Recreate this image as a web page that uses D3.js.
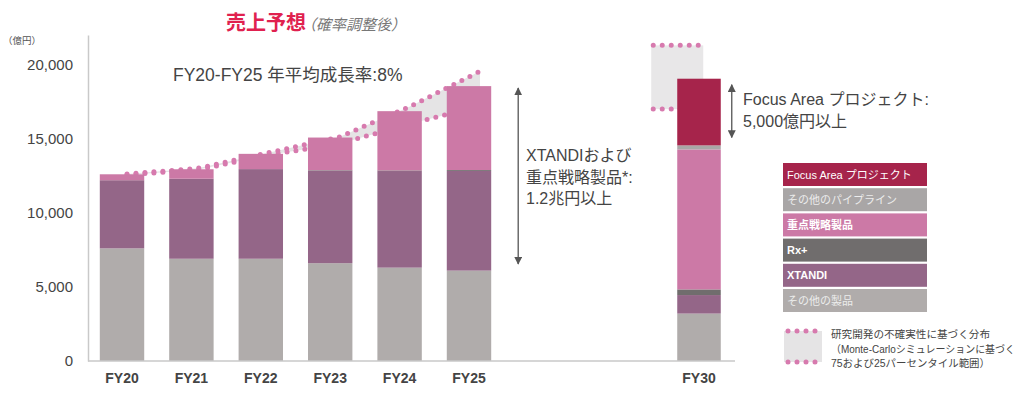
<!DOCTYPE html>
<html>
<head>
<meta charset="utf-8">
<script src="https://cdn.jsdelivr.net/npm/d3@7/dist/d3.min.js"></script>
<style>
  body { margin: 0; background: #fff; }
  svg { display: block; font-family: "Liberation Sans", "Noto Sans CJK JP", sans-serif; }
</style>
</head>
<body>
<svg id="chart" width="1024" height="396"></svg>
<script>
// data (億円)
const years = ["FY20", "FY21", "FY22", "FY23", "FY24", "FY25"];
const otherProducts = [7600, 6900, 6900, 6600, 6300, 6100];
const xtandi        = [4600, 5400, 6050, 6250, 6520, 6730];
const rxPlus        = [0, 0, 0, 30, 40, 60];
const strategic     = [400, 640, 1030, 2200, 4000, 5660];
const pipeline      = [0, 0, 0, 0, 0, 0];
const focusArea     = [0, 0, 0, 0, 0, 0];

// FY30 stack
const fy30Label = "FY30";
const fy30 = { other: 3200, xtandi: 1250, rx: 380, strategic: 9450, pipeline: 270, focus: 4500 };

// 75th / 25th percentile (Monte-Carlo)
const p75 = [12620, 13000, 14050, 15100, 17150, 19550];
const p25 = [12560, 12900, 13900, 14650, 16000, 17200];
const fy30P75 = 21300;
const fy30P25 = 17000;

const yTicks = [0, 5000, 10000, 15000, 20000];

const layerKeys = ["other", "xtandi", "rx", "strategic", "pipeline", "focus"];
const layerColors = {
  other: "#b0acab", xtandi: "#946688", rx: "#706d6d",
  strategic: "#cc79a6", pipeline: "#a9a6a6", focus: "#a6244b"
};
const legendItems = [
  { key: "focus", label: "Focus Area プロジェクト", text: "#fff", bold: false },
  { key: "pipeline", label: "その他のパイプライン", text: "#ececec", bold: false },
  { key: "strategic", label: "重点戦略製品", text: "#fff", bold: true },
  { key: "rx", label: "Rx+", text: "#fff", bold: true },
  { key: "xtandi", label: "XTANDI", text: "#fff", bold: true },
  { key: "other", label: "その他の製品", text: "#ececec", bold: false }
];
const noteLines = ["研究開発の不確実性に基づく分布", "（Monte-Carloシミュレーションに基づく", "75および25パーセンタイル範囲）"];

const rows = years.map((yr, i) => ({
  year: yr, other: otherProducts[i], xtandi: xtandi[i], rx: rxPlus[i],
  strategic: strategic[i], pipeline: pipeline[i], focus: focusArea[i]
}));
const rows30 = [Object.assign({ year: fy30Label }, fy30)];

const svg = d3.select("#chart");
const dotColor = "#d77aae";

// scales
const y = d3.scaleLinear().domain([0, 22000]).range([361, 35]);
const x = d3.scaleBand().domain(years).range([88, 503]).paddingInner(0.36).paddingOuter(0.17);
const x30 = d3.scaleBand().domain([fy30Label]).range([665, 733]).paddingInner(0.36).paddingOuter(0.17);
const cx = (d, i) => x(d) + x.bandwidth() / 2 + 5 + i * 1.2;

// uncertainty band (behind bars)
const band = years.map((yr, i) => ({ yr, i, hi: p75[i], lo: p25[i] }));
svg.append("path")
  .datum(band)
  .attr("fill", "#e5e4e5")
  .attr("d", d3.area().x(d => cx(d.yr, d.i)).y0(d => y(d.lo)).y1(d => y(d.hi)));

const dotLine = (g, d) => g.append("path")
  .attr("d", d)
  .attr("fill", "none")
  .attr("stroke", dotColor)
  .attr("stroke-width", 5)
  .attr("stroke-linecap", "round")
  .attr("stroke-dasharray", "0 9");

dotLine(svg, d3.line().x(d => cx(d.yr, d.i)).y(d => y(d.hi))(band));
dotLine(svg, d3.line().x(d => cx(d.yr, d.i)).y(d => y(d.lo))(band));

// FY30 uncertainty box
const bx0 = x30(fy30Label) - 26, bx1 = x30(fy30Label) + 26;
svg.append("rect")
  .attr("x", bx0).attr("y", y(fy30P75))
  .attr("width", bx1 - bx0).attr("height", y(fy30P25) - y(fy30P75))
  .attr("fill", "#e8e7e8");
dotLine(svg, `M${bx0 + 2},${y(fy30P75)}H${bx1 - 2}`);
dotLine(svg, `M${bx0 + 2},${y(fy30P25)}H${bx1 - 2}`);

// stacked bars
const stack = d3.stack().keys(layerKeys);
const drawStack = (data, xs) => {
  const series = stack(data);
  svg.append("g").selectAll("g")
    .data(series)
    .join("g")
    .attr("fill", s => layerColors[s.key])
    .selectAll("rect")
    .data(s => s)
    .join("rect")
    .attr("x", d => xs(d.data.year))
    .attr("y", d => y(d[1]))
    .attr("width", xs.bandwidth())
    .attr("height", d => y(d[0]) - y(d[1]));
};
drawStack(rows, x);
drawStack(rows30, x30);

// y axis
const yAxis = svg.append("g")
  .attr("transform", "translate(88,0)")
  .call(d3.axisLeft(y).tickValues(yTicks).tickSize(0).tickPadding(15).tickFormat(d3.format(",")));
yAxis.select(".domain").attr("stroke", "#c9c9c9").attr("stroke-width", 1.5);
yAxis.selectAll("text").attr("font-size", 15).attr("fill", "#444").attr("font-family", null);

// baseline
svg.append("line")
  .attr("x1", 88).attr("x2", 735).attr("y1", y(0)).attr("y2", y(0))
  .attr("stroke", "#c9c9c9").attr("stroke-width", 1.5);

// x labels
[x, x30].forEach(xs => {
  const ax = svg.append("g")
    .attr("transform", `translate(0,${y(0)})`)
    .call(d3.axisBottom(xs).tickSize(0).tickPadding(12));
  ax.select(".domain").remove();
  ax.selectAll("text").attr("font-size", 14).attr("font-weight", "bold")
    .attr("fill", "#444").attr("font-family", null);
});

// title and unit
const title = svg.append("text").attr("x", 226).attr("y", 30);
title.append("tspan").text("売上予想").attr("font-size", 20).attr("font-weight", "bold").attr("fill", "#e0214f");
title.append("tspan").text("（確率調整後）").attr("font-size", 15).attr("font-style", "italic").attr("fill", "#777")
  .attr("dx", -5);
svg.append("text").attr("x", 3).attr("y", 44).attr("font-size", 9.5).attr("fill", "#555").text("（億円）");

svg.append("text").attr("x", 173).attr("y", 81).attr("font-size", 17.5).attr("fill", "#444")
  .text("FY20-FY25 年平均成長率:8%");

// arrows
const defs = svg.append("defs");
defs.append("marker").attr("id", "ah")
  .attr("viewBox", "0 0 10 10").attr("refX", 9).attr("refY", 5)
  .attr("markerWidth", 8).attr("markerHeight", 8).attr("markerUnits", "userSpaceOnUse")
  .attr("orient", "auto-start-reverse")
  .append("path").attr("d", "M0,0L10,5L0,10Z").attr("fill", "#555");

const arrow = (ax, v0, v1, pad0, pad1) => svg.append("line")
  .attr("x1", ax).attr("x2", ax)
  .attr("y1", y(v0) + pad0).attr("y2", y(v1) - pad1)
  .attr("stroke", "#555").attr("stroke-width", 1.3)
  .attr("marker-start", "url(#ah)").attr("marker-end", "url(#ah)");

const top25 = otherProducts[5] + xtandi[5] + rxPlus[5] + strategic[5];
arrow(x("FY25") + x.bandwidth() + 27, top25, top25 - 12000, 2, 0);

const top30 = d3.sum(layerKeys, k => fy30[k]);
arrow(x30(fy30Label) + x30.bandwidth() + 11, top30, top30 - fy30.focus, 6, 8);

const multiText = (tx, ty, lines, size, lh) => {
  const t = svg.append("text").attr("x", tx).attr("y", ty).attr("font-size", size).attr("fill", "#444");
  lines.forEach((l, i) => t.append("tspan").attr("x", tx).attr("dy", i ? lh : 0).text(l));
};
multiText(526, 161, ["XTANDIおよび", "重点戦略製品*:", "1.2兆円以上"], 16, 21.5);
multiText(743, 105, ["Focus Area プロジェクト:", "5,000億円以上"], 16, 22);

// legend
const lg = svg.append("g").attr("transform", "translate(783,163)");
const li = lg.selectAll("g").data(legendItems).join("g")
  .attr("transform", (d, i) => `translate(0,${i * 25.2})`);
li.append("rect").attr("width", 144).attr("height", 23).attr("fill", d => layerColors[d.key]);
li.append("text").attr("x", 4).attr("y", 15.5).attr("font-size", 11)
  .attr("font-weight", d => d.bold ? "bold" : "normal")
  .attr("fill", d => d.text).text(d => d.label);

const ug = svg.append("g").attr("transform", "translate(784,331)");
ug.append("rect").attr("width", 38).attr("height", 31).attr("fill", "#e5e4e5");
dotLine(ug, "M4,0H36");
dotLine(ug, "M4,31H36");
const noteWidths = [159, 184, 159];
ug.selectAll("text.note").data(noteLines).join("text")
  .attr("class", "note")
  .attr("x", 47).attr("y", (d, i) => 7 + i * 14.5)
  .attr("font-size", 10.5).attr("fill", "#444")
  .attr("textLength", (d, i) => noteWidths[i]).attr("lengthAdjust", "spacingAndGlyphs")
  .text(d => d);
</script>
</body>
</html>
